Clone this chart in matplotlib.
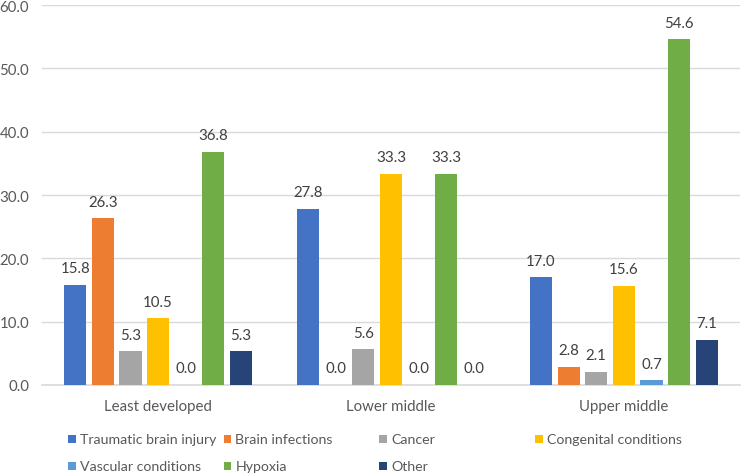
import numpy as np
import matplotlib.pyplot as plt
from matplotlib.patches import Rectangle

plt.rcParams['font.family'] = ['Lato', 'DejaVu Sans']

groups = ["Least developed", "Lower middle", "Upper middle"]
causes = ["Traumatic brain injury", "Brain infections", "Cancer", "Congenital conditions",
          "Vascular conditions", "Hypoxia", "Other"]
colors = ["#4472C4", "#ED7D31", "#A5A5A5", "#FFC000", "#5B9BD5", "#70AD47", "#264478"]

tbi = [15.8, 27.8, 17.0]
infections = [26.3, 0.0, 2.8]
cancer = [5.3, 5.6, 2.1]
congenital = [10.5, 33.3, 15.6]
vascular = [0.0, 0.0, 0.7]
hypoxia = [36.8, 33.3, 54.6]
other = [5.3, 0.0, 7.1]
series = [tbi, infections, cancer, congenital, vascular, hypoxia, other]

fig = plt.figure(figsize=(7.44, 4.77), dpi=100)
ax = fig.add_axes([0.056, 0.191, 0.939, 0.796])

x = np.arange(len(groups))
step = 0.1185
width = 0.095
for i, (vals, c) in enumerate(zip(series, colors)):
    pos = x + (i - 3) * step
    ax.bar(pos, vals, width=width, color=c, zorder=3)
    for p, v in zip(pos, vals):
        ax.annotate(f"{v:.1f}", (p, v), xytext=(0, 7), textcoords="offset points",
                    ha="center", va="bottom", fontsize=10.8, color="#404040")

ax.set_xlim(-0.5, 2.5)
ax.set_ylim(0, 60)
ax.set_yticks(np.arange(0, 61, 10))
ax.set_yticklabels([f"{t:.1f}" for t in np.arange(0, 61, 10)])
ax.set_xticks(x)
ax.set_xticklabels(groups)
ax.tick_params(length=0, labelsize=10.8, labelcolor="#595959")
ax.tick_params(axis="x", pad=10)
ax.tick_params(axis="y", pad=9)
ax.grid(axis="y", color="#D9D9D9", linewidth=1, zorder=0)
for s in ["top", "right", "left"]:
    ax.spines[s].set_visible(False)
ax.spines["bottom"].set_color("#D9D9D9")
ax.spines["bottom"].set_linewidth(1.2)

# legend laid out like the Excel one: 4 equal columns, 2 rows
for i, (name, c) in enumerate(zip(causes, colors)):
    col, row = i % 4, i // 4
    lx = 0.091 + col * 0.2095
    ly = 0.077 - row * 0.057
    fig.add_artist(Rectangle((lx, ly - 0.008), 0.0105, 0.0165, transform=fig.transFigure,
                             facecolor=c, edgecolor="none"))
    fig.text(lx + 0.016, ly, name, fontsize=10.2, color="#595959", va="center", ha="left")

fig.savefig("out.png", dpi=100)
